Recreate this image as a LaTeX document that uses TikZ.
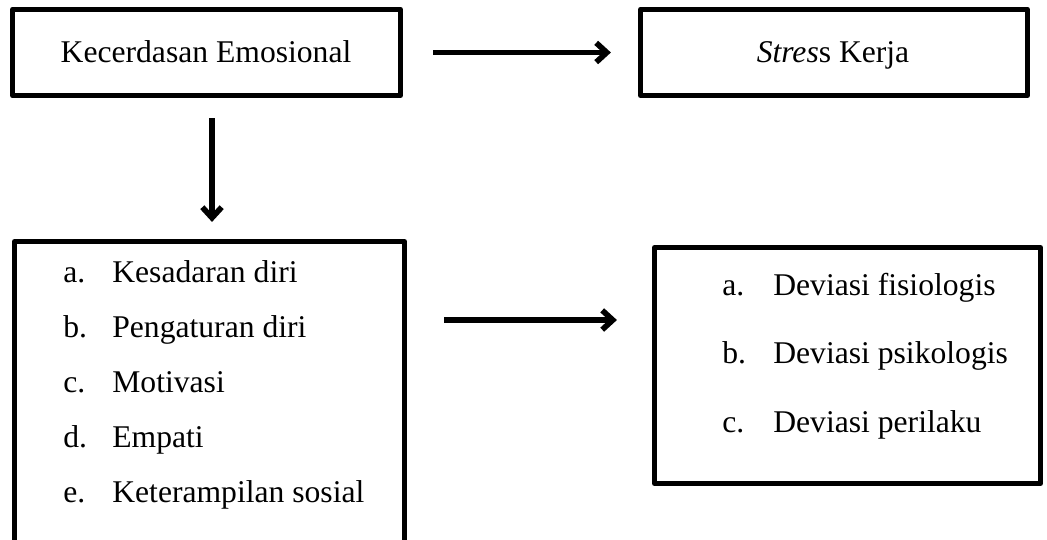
\documentclass[tikz,border=0pt]{standalone}
\usepackage{fontspec}
\setmainfont{Liberation Serif}
\usetikzlibrary{arrows.meta}

\begin{document}
\begin{tikzpicture}[x=0.02cm,y=-0.02cm]
\useasboundingbox (0,0) rectangle (1047,539);
\begin{scope}[
    every node/.style={rectangle,draw=black,line width=3pt,fill=white,inner sep=0pt,line join=round}]
    \node (emosi) at (206.5,52.5) [minimum width=7.76cm,minimum height=1.72cm] {};

    \node (stres) at (834,52.5) [minimum width=7.74cm,minimum height=1.72cm] {};

    \node (dimensi) at (209.5,410.75) [minimum width=7.8cm,minimum height=6.77cm] {};

    \node (dampak) at (847.5,365.5) [minimum width=7.72cm,minimum height=4.72cm] {};
\end{scope}

\begin{scope}[
    every node/.style={font=\fontsize{18pt}{22pt}\selectfont,inner sep=0pt}]
    \node (emosi-judul) at (206,62) [anchor=base] {Kecerdasan Emosional};
    \node (stres-judul) at (833,62) [anchor=base] {\textit{Stres}s Kerja};

    \node (dimensi-a) at (63,282) [anchor=base west] {\makebox[0.98cm][l]{a.}Kesadaran diri};
    \node (dimensi-b) at (63,337) [anchor=base west] {\makebox[0.98cm][l]{b.}Pengaturan diri};
    \node (dimensi-c) at (63,392) [anchor=base west] {\makebox[0.98cm][l]{c.}Motivasi};
    \node (dimensi-d) at (63,447) [anchor=base west] {\makebox[0.98cm][l]{d.}Empati};
    \node (dimensi-e) at (63,502) [anchor=base west] {\makebox[0.98cm][l]{e.}Keterampilan sosial};

    \node (dampak-a) at (722,295) [anchor=base west] {\makebox[1.02cm][l]{a.}Deviasi fisiologis};
    \node (dampak-b) at (722,363.5) [anchor=base west] {\makebox[1.02cm][l]{b.}Deviasi psikologis};
    \node (dampak-c) at (722,432) [anchor=base west] {\makebox[1.02cm][l]{c.}Deviasi perilaku};
\end{scope}

\coordinate (sejajar) at (0,320);

\begin{scope}[>={Straight Barb[length=6pt,width=11pt]},
              every edge/.style={draw=black,line width=3.2pt}]
    \path [->] (emosi) edge[shorten <=0.6cm, shorten >=0.54cm] (stres);
    \path [->] ([xshift=0.11cm]emosi.south) edge[shorten <=0.4cm, shorten >=0.34cm] ([xshift=0.11cm]emosi.south |- dimensi.north);
    \path [->] (dimensi.east |- sejajar) edge[shorten <=0.74cm, shorten >=0.7cm] (dampak.west |- sejajar);
\end{scope}
\end{tikzpicture}
\end{document}
